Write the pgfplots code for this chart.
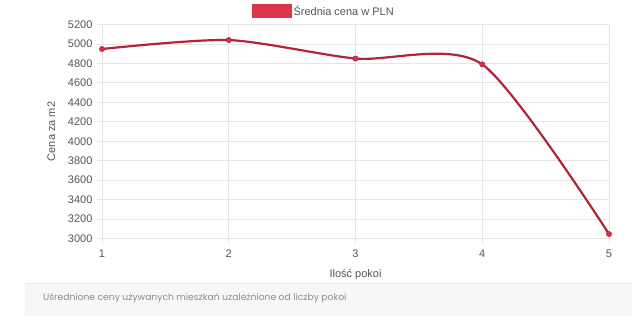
\documentclass[border=0pt]{standalone}
\usepackage{fontspec}
\setmainfont{Liberation Sans}
\newfontfamily\popfont{Poppins}
\usepackage{pgfplots}
\pgfplotsset{compat=1.18}
\definecolor{linered}{RGB}{178,36,58}
\definecolor{boxred}{RGB}{220,52,72}
\definecolor{gridc}{RGB}{230,230,230}
\definecolor{tickc}{RGB}{85,85,85}
\begin{document}
\begin{tikzpicture}[x=1pt,y=1pt]
\useasboundingbox (0,0) rectangle (642,325);
% footer
\fill[fill={rgb,255:red,247;green,247;blue,247}] (25,9) rectangle (632,42);
\draw[color={rgb,255:red,232;green,232;blue,232},line width=0.8pt] (25,42) -- (632,42);
\node[anchor=west,inner sep=0pt,text={rgb,255:red,140;green,140;blue,140},font=\popfont\fontsize{9.2}{11}\selectfont] at (43,27) {Uśrednione ceny używanych mieszkań uzależnione od liczby pokoi};
\begin{axis}[
  at={(102pt,86.5pt)}, anchor=south west,
  scale only axis, width=507pt, height=214pt,
  xmin=1, xmax=5, ymin=3000, ymax=5200,
  xtick={1,2,3,4,5},
  ytick={3000,3200,...,5200},
  grid=major,
  grid style={gridc, line width=0.8pt},
  axis line style={gridc, line width=0.8pt},
  tick pos=left,
  tick align=outside,
  major tick length=5pt,
  tick style={gridc, line width=0.8pt},
  /pgf/number format/1000 sep={},
  /pgf/number format/assume math mode=true,
  ticklabel style={font=\fontsize{11}{13}\selectfont, text=tickc},
  xticklabel style={yshift=-3pt},
  yticklabel style={xshift=-1pt},
  xlabel={Ilość pokoi},
  ylabel={Cena za m2},
  label style={font=\fontsize{11}{13}\selectfont, text=tickc},
  xlabel style={yshift=-5pt},
  ylabel style={yshift=6pt},
  legend style={at={(axis description cs:0.438,1.1)}, anchor=north, draw=none, fill=none, inner sep=0pt, font=\fontsize{11}{13}\selectfont, text=tickc, nodes={inner sep=2pt}},
  legend image code/.code={\fill[boxred] (0pt,-6pt) rectangle (37pt,6pt);},
  legend cell align=left,
]
\addplot[linered, line width=2.2pt, smooth, tension=0.45, mark=*, mark size=2.5pt, mark options={fill=boxred, draw=linered, line width=0.8pt}]
  coordinates {(1,4948) (2,5040) (3,4850) (4,4790) (5,3046)};
\addlegendentry{Średnia cena w PLN}
\end{axis}
\end{tikzpicture}
\end{document}
